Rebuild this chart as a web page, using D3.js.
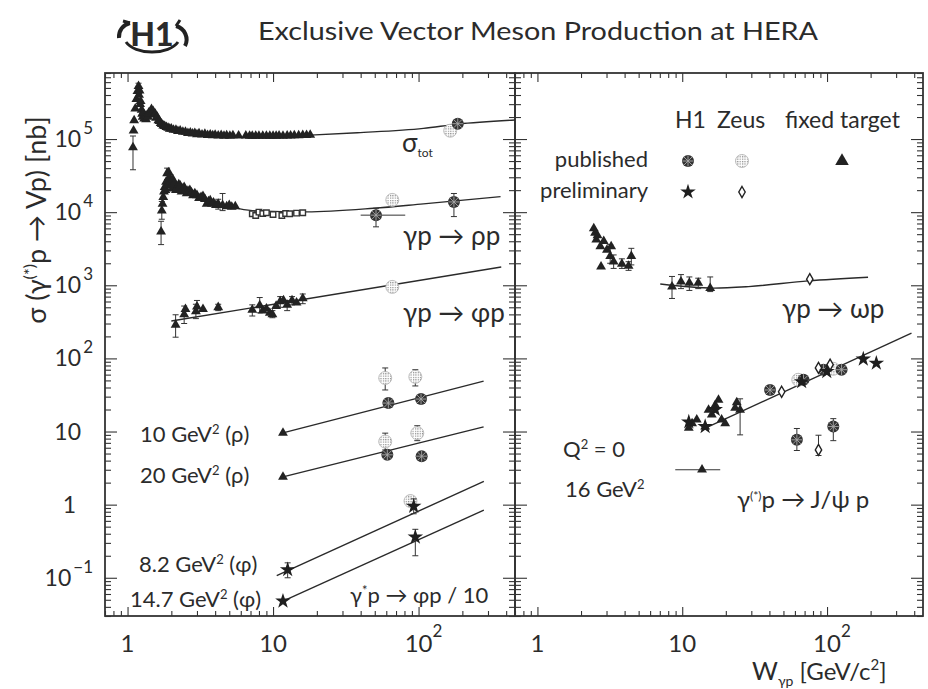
<!DOCTYPE html>
<html>
<head>
<meta charset="utf-8">
<script src="https://cdn.jsdelivr.net/npm/d3@7"></script>
<style>
  body { margin: 0; background: #fff; }
  svg { display: block; }
  text { font-family: Lato, "DejaVu Sans", sans-serif; fill: #2b2b2b; }
</style>
</head>
<body>
<div id="chart"></div>
<script>
//#region Data
// each point: [W (GeV), sigma (nb), errLow, errHigh, wLow, wHigh]
const sigTotFT = [
    [1.09, 7.7e4, 3.8e4, 1.1e5], [1.10, 1.3e5], [1.11, 1.8e5], [1.13, 2.6e5], [1.15, 3.5e5],
    [1.17, 4.5e5], [1.19, 5.3e5, 4.6e5, 5.8e5], [1.20, 4.0e5], [1.21, 4.6e5], [1.22, 3.0e5], [1.23, 3.3e5],
    [1.25, 2.5e5], [1.26, 2.2e5], [1.27, 2.0e5], [1.28, 2.3e5], [1.30, 1.9e5], [1.32, 2.05e5], [1.34, 1.85e5],
    [1.36, 2.1e5], [1.38, 2.0e5], [1.40, 2.3e5], [1.42, 2.2e5], [1.44, 2.4e5], [1.46, 2.55e5], [1.48, 2.3e5],
    [1.50, 2.4e5], [1.52, 2.15e5], [1.55, 2.2e5], [1.57, 1.95e5], [1.60, 2.0e5], [1.63, 1.8e5],
    [1.66, 1.75e5], [1.69, 1.65e5], [1.72, 1.6e5], [1.76, 1.52e5], [1.80, 1.5e5], [1.85, 1.45e5],
    [1.90, 1.42e5], [1.95, 1.38e5], [2.0, 1.38e5], [2.07, 1.33e5], [2.15, 1.33e5], [2.22, 1.28e5],
    [2.3, 1.3e5], [2.4, 1.25e5], [2.5, 1.25e5], [2.6, 1.2e5], [2.7, 1.22e5], [2.8, 1.18e5], [2.9, 1.2e5],
    [3.0, 1.16e5], [3.1, 1.19e5], [3.25, 1.15e5], [3.4, 1.17e5], [3.55, 1.13e5], [3.7, 1.15e5],
    [3.85, 1.12e5], [4.0, 1.14e5], [4.2, 1.11e5], [4.4, 1.13e5], [4.6, 1.1e5], [4.8, 1.12e5],
    [5.05, 1.1e5], [5.3, 1.12e5], [5.8, 1.11e5], [6.5, 1.11e5], [6.9, 1.1e5], [7.2, 1.1e5],
    [7.6, 1.1e5], [8, 1.1e5], [8.5, 1.1e5], [9, 1.1e5], [9.5, 1.1e5], [10, 1.1e5], [10.5, 1.1e5],
    [11, 1.11e5], [11.7, 1.1e5], [12.5, 1.11e5], [13.2, 1.11e5], [14, 1.12e5], [15, 1.12e5],
    [16, 1.13e5], [17, 1.13e5], [18, 1.14e5]
];
const sigTotH1 = [[186, 1.62e5]];
const sigTotZeus = [[165, 1.3e5]];
const sigTotFit = [[18, 1.13e5], [38, 1.22e5], [108, 1.4e5], [186, 1.6e5], [460, 1.82e5]];

const rhoFT = [
    [1.70, 5.4e3, 3.6e3, 7.5e3], [1.72, 1.05e4, 8e3, 1.4e4], [1.74, 1.3e4], [1.76, 1.6e4], [1.78, 1.9e4],
    [1.80, 2.2e4], [1.82, 2.0e4], [1.84, 2.6e4], [1.87, 3.4e4, 2.8e4, 4.0e4], [1.89, 2.4e4],
    [1.92, 3.5e4], [1.94, 3.0e4], [1.97, 2.6e4], [2.0, 2.3e4], [2.03, 2.1e4], [2.05, 2.8e4],
    [2.1, 2.5e4], [2.15, 2.0e4], [2.2, 2.2e4], [2.25, 2.4e4], [2.3, 2.3e4], [2.35, 1.9e4],
    [2.4, 2.1e4], [2.45, 2.2e4], [2.5, 2.0e4], [2.55, 1.8e4], [2.6, 1.95e4], [2.68, 2.0e4],
    [2.75, 1.85e4], [2.82, 1.7e4], [2.9, 1.8e4], [3.0, 1.7e4], [3.1, 1.55e4], [3.2, 1.6e4],
    [3.3, 1.65e4], [3.4, 1.5e4], [3.5, 1.3e4], [3.6, 1.4e4], [3.7, 1.45e4], [3.8, 1.3e4],
    [3.9, 1.35e4], [4.05, 1.25e4], [4.2, 1.3e4, 1.1e4, 1.5e4], [4.5, 1.25e4, 1.05e4, 1.8e4],
    [4.8, 1.2e4], [5.0, 1.25e4], [5.2, 1.18e4], [5.5, 1.2e4]
];
const rhoOmegaSq = [[7.2, 9.5e3], [7.6, 9.0e3], [8, 1.0e4], [8.5, 9.6e3], [9, 9.8e3], [10, 9.3e3],
    [11.5, 9.0e3], [12.2, 9.6e3], [13, 9.5e3], [14.5, 9.7e3], [16, 9.8e3]];
const rhoH1 = [[51, 9.1e3, 6.3e3, 1.13e4, 40, 81], [175, 1.38e4, 8.7e3, 1.8e4]];
const rhoZeus = [[66, 1.47e4]];
const rhoFit = [[4.0, 1.32e4], [7.7, 1.04e4], [17, 1.01e4], [49, 1.13e4], [108, 1.3e4], [366, 1.63e4]];

const phiFT = [
    [2.14, 288, 195, 395], [2.45, 400, 300, 520], [2.5, 470], [2.95, 440, 350, 550], [3.0, 510, 420, 620],
    [3.3, 470], [4.2, 500, 450, 550], [7.2, 460, 380, 540], [8.1, 530, 420, 680], [8.5, 450],
    [9.0, 480], [9.5, 420], [9.9, 400, 360, 450], [10.5, 520], [11.2, 600, 500, 700], [11.8, 620],
    [12.5, 540, 450, 620], [13.5, 620, 540, 700], [14.5, 580], [16, 660, 560, 760]
];
const phiZeus = [[66, 950, 850, 1080]];
const phiFit = [[2.0, 325], [370, 1780]];

// electroproduction, Q2 = 10 and 20 GeV2 (rho), 8.2 and 14.7 GeV2 (phi / 10)
const rho10FT = [[11.7, 9.6]];
const rho10H1 = [[62, 24.5], [104, 27.8]];
const rho10Zeus = [[59, 54, 37, 74], [95, 56, 42, 70]];
const rho10Fit = [[11.7, 9.6], [280, 49]];
const rho20FT = [[11.7, 2.4]];
const rho20H1 = [[61, 4.8], [105, 4.6]];
const rho20Zeus = [[59, 7.3, 5.6, 9.5], [98, 9.5, 7.5, 12]];
const rho20Fit = [[11.7, 2.4], [280, 11.6]];
const phi8Prel = [[12.6, 0.129, 0.1, 0.16], [92.6, 0.95, 0.75, 1.2]];
const phi8Zeus = [[88, 1.12]];
const phi8Fit = [[10.6, 0.107], [281, 2.08]];
const phi14Prel = [[11.7, 0.048], [95, 0.36, 0.2, 0.46]];
const phi14Fit = [[11.7, 0.048], [281, 0.84]];

// right panel
const omegaFT = [
    [2.45, 6.0e3], [2.5, 5.2e3], [2.55, 4.2e3], [2.6, 4.8e3], [2.72, 3.4e3], [2.75, 1.8e3], [2.87, 4.0e3],
    [3.02, 3.05e3], [3.18, 2.5e3, 2.0e3, 3.6e3], [3.23, 3.4e3], [3.36, 2.1e3, 1.7e3, 2.6e3],
    [3.83, 1.96e3, 1.7e3, 2.3e3], [4.26, 1.84e3, 1.6e3, 2.1e3], [4.45, 2.5e3, 1.9e3, 3.2e3],
    [8.5, 960, 660, 1320], [9.8, 1120, 900, 1400], [11.2, 1080, 850, 1300], [12.9, 1080, 900, 1250], [15.6, 910, 820, 1300]
];
const omegaZeusPrel = [[76, 1210]];
const omegaFit = [[7.05, 1040], [16.5, 915], [28.7, 960], [74, 1150], [192, 1290]];

const jpsiFT = [
    [11.1, 11.2], [11.7, 12.9], [12.6, 14.5], [14.4, 11.7], [15.2, 19.8], [16.0, 17], [16.9, 23],
    [17.8, 27], [18.7, 14.5], [19.8, 12.9], [23.2, 21], [23.8, 25], [25.1, 19.8, 9, 28]
];
const jpsiH1Prel = [[11.1, 13.5], [14.4, 11.7], [16.9, 20], [66.8, 48], [99.6, 66], [178, 98], [219, 86]];
const jpsiH1 = [[40.4, 37], [68.8, 51], [94.4, 70], [126, 70]];
const jpsiZeusPrel = [[48.6, 35], [87.3, 74], [105, 82]];
const jpsiZeus = [[63.3, 51], [110.5, 72]];
const jpsiFit = [[15.2, 11.7], [383, 221]];
const jpsi16H1 = [[61.9, 7.7, 5.5, 11], [110.5, 11.7, 7.5, 15]];
const jpsi16ZeusPrel = [[87.3, 5.6, 4.7, 8.9]];
const jpsi16FT = [[13.7, 3.0, null, null, 8.95, 18.3]];

const xMajorTicks = [1, 10, 100];
const xTickLabels = [["1", ""], ["10", ""], ["10", "2"]];
const yMajorTicks = [0.1, 1, 10, 100, 1e3, 1e4, 1e5];
const yTickLabels = [["10", "−1"], ["1", ""], ["10", ""], ["10", "2"], ["10", "3"], ["10", "4"], ["10", "5"]];
//#endregion

//#region Setup
const W = 928, H = 689;
const plotTop = 73, plotBottom = 616;
const svg = d3.select("#chart").append("svg").attr("width", W).attr("height", H);
const defs = svg.append("defs");
const pat = defs.append("pattern").attr("id", "stipple").attr("width", 2.4).attr("height", 2.4)
    .attr("patternUnits", "userSpaceOnUse");
pat.append("rect").attr("width", 2.4).attr("height", 2.4).attr("fill", "#fff");
pat.append("rect").attr("width", 1.2).attr("height", 1.2).attr("fill", "#8a8a8a");

const y = d3.scaleLog().domain([0.03, 8e5]).range([plotBottom, plotTop]);
const xL = d3.scaleLog().domain([0.7, 460]).range([105, 515]);
const xR = d3.scaleLog().domain([0.7, 460]).range([515, 923]);

// minor ticks, every integer multiple inside each decade
function minors(domain, majors) {
    const out = [];
    for (let e = -3; e <= 6; e++) for (let m = 1; m <= 9; m++) {
        const v = +(m * Math.pow(10, e)).toPrecision(6);
        if (v >= domain[0] * 0.999 && v <= domain[1] * 1.001 && !majors.includes(v)) out.push(v);
    }
    return out;
}
const xMinor = minors(xL.domain(), xMajorTicks);
const yMinor = minors(y.domain(), yMajorTicks);
//#endregion

//#region Frames and axes
function frame(x) {
    const g = svg.append("g").attr("class", "frame");
    const r = x.range();
    const ax = (axis, tr) => g.append("g").attr("transform", tr).call(axis)
        .call(s => s.select(".domain").remove())
        .call(s => s.selectAll("line").attr("stroke", "#333").attr("stroke-width", 1.1));
    ax(d3.axisBottom(x).tickValues(xMinor).tickSize(-5).tickFormat(""), `translate(0,${plotBottom})`);
    ax(d3.axisBottom(x).tickValues(xMajorTicks).tickSize(-9).tickFormat(""), `translate(0,${plotBottom})`);
    ax(d3.axisTop(x).tickValues(xMinor).tickSize(-5).tickFormat(""), `translate(0,${plotTop})`);
    ax(d3.axisTop(x).tickValues(xMajorTicks).tickSize(-9).tickFormat(""), `translate(0,${plotTop})`);
    ax(d3.axisLeft(y).tickValues(yMinor).tickSize(-6).tickFormat(""), `translate(${r[0]},0)`);
    ax(d3.axisLeft(y).tickValues(yMajorTicks).tickSize(-12).tickFormat(""), `translate(${r[0]},0)`);
    ax(d3.axisRight(y).tickValues(yMinor).tickSize(-6).tickFormat(""), `translate(${r[1]},0)`);
    ax(d3.axisRight(y).tickValues(yMajorTicks).tickSize(-12).tickFormat(""), `translate(${r[1]},0)`);
    g.append("rect").attr("x", r[0]).attr("y", plotTop).attr("width", r[1] - r[0]).attr("height", plotBottom - plotTop)
        .attr("fill", "none").attr("stroke", "#333").attr("stroke-width", 1.8);

    // x tick labels
    xMajorTicks.forEach((v, i) => {
        const [base, exp] = xTickLabels[i];
        g.append("text").attr("x", x(v)).attr("y", plotBottom + 36).attr("text-anchor", "middle")
            .attr("font-size", 24).text(base);
        if (exp) g.append("text").attr("x", x(v) + 14).attr("y", plotBottom + 21).attr("font-size", 17).text(exp);
    });
}
frame(xL);
frame(xR);

// y tick labels (left only)
yMajorTicks.forEach((v, i) => {
    const [base, exp] = yTickLabels[i];
    const t = svg.append("text").attr("y", y(v) + 8).attr("font-size", 23).attr("text-anchor", "end");
    if (exp) {
        t.attr("x", 93);
        t.append("tspan").text(base);
        t.append("tspan").attr("dy", -13).attr("dx", 2).attr("font-size", 17).text(exp);
    } else {
        t.attr("x", base === "1" ? 76 : 81).text(base);
    }
});
//#endregion

//#region Marks
const lineGen = x => d3.line().x(d => x(d[0])).y(d => y(d[1])).curve(d3.curveMonotoneX);

function fit(x, data) {
    svg.append("path").datum(data).attr("d", lineGen(x))
        .attr("fill", "none").attr("stroke", "#2a2a2a").attr("stroke-width", 1.4);
}

function errors(x, data) {
    const g = svg.append("g").attr("stroke", "#333").attr("stroke-width", 1);
    data.forEach(d => {
        if (d[2] != null) {
            g.append("line").attr("x1", x(d[0])).attr("x2", x(d[0])).attr("y1", y(d[2])).attr("y2", y(d[3]));
            [d[2], d[3]].forEach(v => g.append("line").attr("x1", x(d[0]) - 3).attr("x2", x(d[0]) + 3)
                .attr("y1", y(v)).attr("y2", y(v)));
        }
        if (d[4] != null) {
            g.append("line").attr("x1", x(d[4])).attr("x2", x(d[5])).attr("y1", y(d[1])).attr("y2", y(d[1]));
        }
    });
}

const symbols = {
    tri: (g, s) => g.append("path").attr("d", d3.symbol(d3.symbolTriangle, s || 42)()).attr("fill", "#222"),
    star: (g) => g.append("path").attr("d", d3.symbol(d3.symbolStar, 75)()).attr("fill", "#1e1e1e"),
    square: (g) => g.append("path").attr("d", d3.symbol(d3.symbolSquare, 30)())
        .attr("fill", "#fff").attr("stroke", "#333").attr("stroke-width", 1.4),
    diamond: (g) => g.append("path").attr("d", "M0,-5.5L3.2,0L0,5.5L-3.2,0Z")
        .attr("fill", "#fff").attr("stroke", "#222").attr("stroke-width", 1.4),
    h1: (g) => {
        g.append("circle").attr("r", 6).attr("fill", "#333");
        g.append("path").attr("d", "M-4,-4L4,4M-4,4L4,-4M-5.5,0H5.5M0,-5.5V5.5")
            .attr("stroke", "#a8a8a8").attr("stroke-width", 0.9);
    },
    zeus: (g) => g.append("circle").attr("r", 6.5).attr("fill", "url(#stipple)")
        .attr("stroke", "#b0b0b0").attr("stroke-width", 0.8)
};

function points(x, data, kind) {
    errors(x, data);
    const g = svg.append("g");
    data.forEach(d => symbols[kind](g.append("g").attr("transform", `translate(${x(d[0])},${y(d[1])})`)));
}

// left panel
fit(xL, sigTotFit);
points(xL, sigTotFT, "tri");
points(xL, sigTotZeus, "zeus");
points(xL, sigTotH1, "h1");

fit(xL, rhoFit);
points(xL, rhoFT, "tri");
points(xL, rhoOmegaSq, "square");
points(xL, rhoZeus, "zeus");
points(xL, rhoH1, "h1");

fit(xL, phiFit);
points(xL, phiFT, "tri");
points(xL, phiZeus, "zeus");

fit(xL, rho10Fit);
points(xL, rho10FT, "tri");
points(xL, rho10Zeus, "zeus");
points(xL, rho10H1, "h1");

fit(xL, rho20Fit);
points(xL, rho20FT, "tri");
points(xL, rho20Zeus, "zeus");
points(xL, rho20H1, "h1");

fit(xL, phi8Fit);
points(xL, phi8Zeus, "zeus");
points(xL, phi8Prel, "star");
fit(xL, phi14Fit);
points(xL, phi14Prel, "star");

// right panel
fit(xR, omegaFit);
points(xR, omegaFT, "tri");
points(xR, omegaZeusPrel, "diamond");

fit(xR, jpsiFit);
points(xR, jpsiFT, "tri");
points(xR, jpsiZeus, "zeus");
points(xR, jpsiH1, "h1");
points(xR, jpsiZeusPrel, "diamond");
points(xR, jpsiH1Prel, "star");
points(xR, jpsi16H1, "h1");
points(xR, jpsi16ZeusPrel, "diamond");
points(xR, jpsi16FT, "tri");
//#endregion

//#region Labels
function label(x, yy, parts, size) {
    const t = svg.append("text").attr("x", x).attr("y", yy).attr("font-size", size || 22);
    parts.forEach(p => {
        if (typeof p === "string") t.append("tspan").text(p);
        else t.append("tspan").attr("dy", p.dy).attr("font-size", p.size).text(p.t);
    });
    return t;
}

// title and logo
svg.append("text").attr("x", 258).attr("y", 40).attr("font-size", 25).attr("fill", "#444")
    .attr("textLength", 560).attr("lengthAdjust", "spacingAndGlyphs")
    .text("Exclusive Vector Meson Production at HERA");
const logo = svg.append("g").attr("transform", "translate(152,36)");
logo.append("path").attr("d", "M-26,6 A28,16 0 0 0 26,6").attr("fill", "none").attr("stroke", "#222").attr("stroke-width", 3);
logo.append("path").attr("d", "M-33,2 A14,14 0 0 1 -22,-13 M33,10 A14,14 0 0 0 24,-10")
    .attr("fill", "none").attr("stroke", "#222").attr("stroke-width", 4);
logo.append("path").attr("d", "M-22,-13l-7,-2M24,-10l4,-6").attr("stroke", "#222").attr("stroke-width", 3);
logo.append("text").attr("x", 0).attr("y", 10).attr("text-anchor", "middle").attr("font-size", 32)
    .attr("font-weight", "900").attr("fill", "#1a1a1a").text("H1");

// y axis title
svg.append("text").attr("transform", "translate(46,220) rotate(-90)").attr("text-anchor", "middle")
    .attr("font-size", 27)
    .call(t => {
        t.append("tspan").text("σ (γ");
        t.append("tspan").attr("dy", -11).attr("font-size", 16).text("(*)");
        t.append("tspan").attr("dy", 11).text("p → Vp) [nb]");
    });

// x axis title
label(752, 680, ["W", { t: "γp", dy: 6, size: 14 }, { t: "  [GeV/c", dy: -6, size: 24 }, { t: "2", dy: -10, size: 15 }, { t: "]", dy: 10, size: 24 }], 25);

// left panel annotations
label(402, 152, ["σ", { t: "tot", dy: 5, size: 12 }], 26);
label(403, 245, ["γp  →  ρp"], 26);
label(403, 322, ["γp  →  φp"], 26);
label(140, 442, ["10 GeV", { t: "2", dy: -8, size: 13 }, { t: " (ρ)", dy: 8, size: 22 }]);
label(140, 483, ["20 GeV", { t: "2", dy: -8, size: 13 }, { t: " (ρ)", dy: 8, size: 22 }]);
label(139, 572, ["8.2 GeV", { t: "2", dy: -8, size: 13 }, { t: " (φ)", dy: 8, size: 22 }]);
label(130, 607, ["14.7 GeV", { t: "2", dy: -8, size: 13 }, { t: " (φ)", dy: 8, size: 22 }]);
label(350, 603, ["γ", { t: "*", dy: -8, size: 13 }, { t: "p → φp / 10", dy: 8, size: 22 }]);

// right panel annotations
label(782, 318, ["γp  →  ωp"], 26);
label(563, 457, ["Q", { t: "2", dy: -8, size: 13 }, { t: " = 0", dy: 8, size: 22 }]);
label(565, 497, ["16 GeV", { t: "2", dy: -8, size: 13 }]);
label(737, 508, ["γ", { t: "(*)", dy: -8, size: 12 }, { t: "p  →  J/ψ p", dy: 8, size: 24 }], 24);

// legend
label(675, 128, ["H1"], 23);
label(717, 128, ["Zeus"], 23);
label(785, 128, ["fixed target"], 23);
label(648, 167, ["published"]).attr("text-anchor", "end");
label(648, 198, ["preliminary"]).attr("text-anchor", "end");
const leg = [["h1", 688, 161], ["zeus", 742, 161], ["star", 688, 192], ["diamond", 742, 192]];
leg.forEach(([k, lx, ly]) => symbols[k](svg.append("g").attr("transform", `translate(${lx},${ly})`)));
symbols.tri(svg.append("g").attr("transform", "translate(842,161)"), 80);
//#endregion
</script>
</body>
</html>
